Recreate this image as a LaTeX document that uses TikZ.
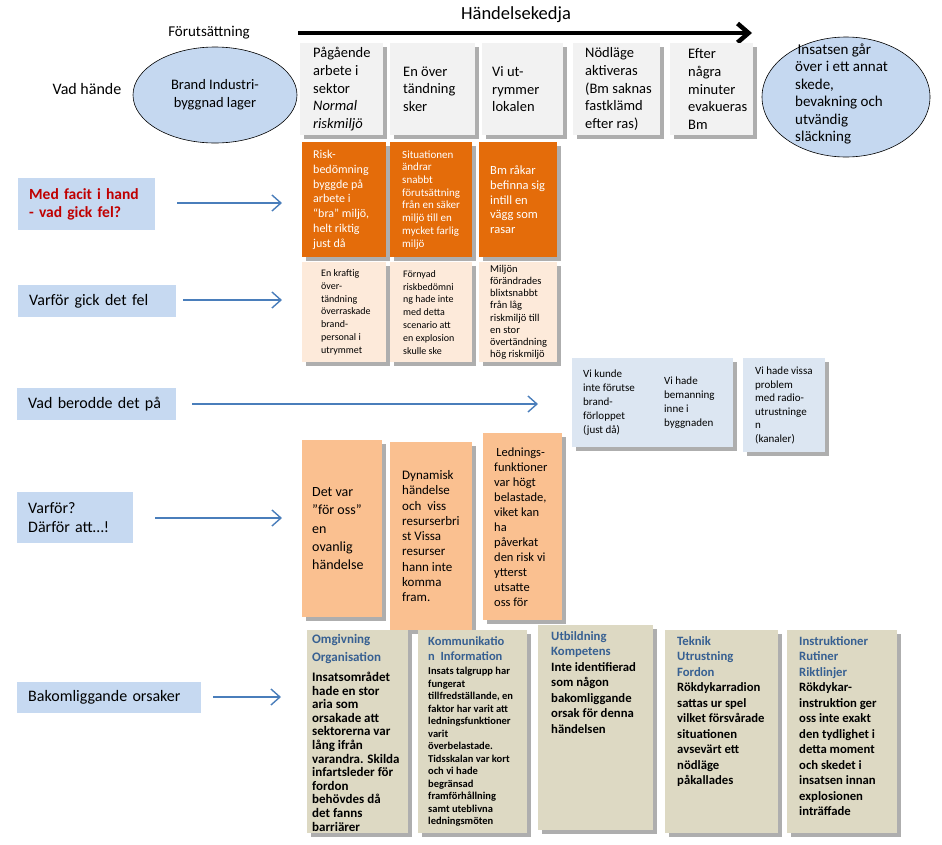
\documentclass[tikz,border=0pt]{standalone}
\usepackage{fontspec}
\setmainfont{Carlito}
\usetikzlibrary{shadows,arrows.meta,shapes.geometric}
\definecolor{greyfill}{HTML}{F2F2F2}
\definecolor{orangefill}{HTML}{E46C0A}
\definecolor{lightor}{HTML}{FDEADA}
\definecolor{peach}{HTML}{FAC090}
\definecolor{bluebox}{HTML}{DCE6F2}
\definecolor{labblue}{HTML}{C6D9F1}
\definecolor{ellblue}{HTML}{C5D8F0}
\definecolor{beige}{HTML}{DDD9C3}
\definecolor{headblue}{HTML}{376092}
\definecolor{factred}{HTML}{C00000}
\definecolor{arrblue}{HTML}{4A7EBB}
\newcommand\fs[2]{\fontsize{#1}{#2}\selectfont}
\begin{document}
\begin{tikzpicture}[x=1pt,y=-1pt,
  box/.style={rectangle, anchor=north west, inner sep=0pt, draw=none,
    drop shadow={shadow xshift=3.5pt, shadow yshift=-3.5pt, fill=black!45, opacity=0.7}},
  txt/.style={anchor=west, inner sep=0pt, align=left},
  txttop/.style={anchor=north west, inner sep=0pt, align=left},
  lab/.style={anchor=north west, fill=labblue, inner xsep=11pt, inner ysep=0pt, align=left, font=\fs{16}{19}},
  ell/.style={ellipse, draw=black, line width=0.6pt, fill=ellblue, inner sep=0pt},
  conn/.style={draw=arrblue, line width=1.4pt, -{Straight Barb[length=9pt,width=16pt,line width=1.4pt]}},
]
\useasboundingbox (0,0) rectangle (942,844);

% ---- title and timeline
\node[inner sep=0pt, font=\fs{18.5}{22}] (title) at (516,15) {Händelsekedja};
\node[inner sep=0pt, font=\fs{15}{18}] (forut) at (209,33) {Förutsättning};
\coordinate (ts) at (298,33);
\coordinate (te) at (752,33);
\draw[line width=4.5pt, -{Straight Barb[length=11pt,width=19pt,line width=4.5pt]}] (ts) -- (te);

\node[inner sep=0pt, font=\fs{16}{19}] (vadh) at (87,89) {Vad hände};
\node[ell, minimum width=164, minimum height=96, align=center, font=\fs{14.5}{17.7}] (e1) at (215,95) {Brand Industri-\\byggnad lager};
\node[ell, minimum width=168, minimum height=120] (e2) at (846,97) {};
\node[txt, font=\fs{15}{17.5}] (e2t) at (795,94) {\,Insatsen går\\över i ett annat\\skede,\\bevakning och\\utvändig\\släckning};

% ---- grey event boxes
\node[box, fill=greyfill, minimum width=83, minimum height=92] (g1) at (300,43) {};
\node[box, fill=greyfill, minimum width=85, minimum height=92] (g2) at (390,43) {};
\node[box, fill=greyfill, minimum width=81, minimum height=92] (g3) at (482,43) {};
\node[box, fill=greyfill, minimum width=87, minimum height=92] (g4) at (573,43) {};
\node[box, fill=greyfill, minimum width=83, minimum height=92] (g5) at (670,43) {};
\node[txt, font=\fs{14.5}{17.7}] (g1t) at ([xshift=13pt]g1.west) {Pågående\\arbete i\\sektor\\\textit{Normal}\\\textit{riskmiljö}};
\node[txt, font=\fs{14.5}{17.7}] (g2t) at ([xshift=13pt]g2.west) {En över\\tändning\\sker};
\node[txt, font=\fs{14.5}{17.7}] (g3t) at ([xshift=10pt]g3.west) {Vi ut-\\rymmer\\lokalen};
\node[txt, font=\fs{14.5}{17.7}] (g4t) at ([xshift=12pt]g4.west) {Nödläge\\aktiveras\\(Bm saknas\\fastklämd\\efter ras)};
\node[txt, font=\fs{14.5}{17.7}] (g5t) at ([xshift=18pt]g5.west) {Efter\\några\\minuter\\evakueras\\Bm};

% ---- orange boxes
\node[box, fill=orangefill, minimum width=84, minimum height=115] (o1) at (302,142) {};
\node[box, fill=orangefill, minimum width=82, minimum height=115] (o2) at (390,142) {};
\node[box, fill=orangefill, minimum width=78, minimum height=115] (o3) at (479,142) {};
\node[txt, text=white, font=\fs{12}{14.8}] (o1t) at ([xshift=11pt]o1.west) {Risk-\\bedömning\\byggde på\\arbete i\\“bra” miljö,\\helt riktig\\just då};
\node[txt, text=white, font=\fs{11}{12.7}] (o2t) at ([xshift=12pt]o2.west) {Situationen\\ändrar\\snabbt\\förutsättning\\från en säker\\miljö till en\\mycket farlig\\miljö};
\node[txt, text=white, font=\fs{12.5}{14.8}] (o3t) at ([xshift=11pt]o3.west) {Bm råkar\\befinna sig\\intill en\\vägg som\\rasar};

% ---- light orange boxes
\node[box, fill=lightor, minimum width=84, minimum height=100] (l1) at (302,262) {};
\node[box, fill=lightor, minimum width=82, minimum height=100] (l2) at (390,262) {};
\node[box, fill=lightor, minimum width=78, minimum height=100] (l3) at (479,262) {};
\node[txt, font=\fs{10}{12.8}] (l1t) at ([xshift=19pt]l1.west) {En kraftig\\över-\\tändning\\överraskade\\brand-\\personal i\\utrymmet};
\node[txt, font=\fs{10}{12.8}] (l2t) at ([xshift=13pt]l2.west) {Förnyad\\riskbedömni\\ng hade inte\\med detta\\scenario att\\en explosion\\skulle ske};
\node[txt, font=\fs{10.5}{12.1}] (l3t) at ([xshift=11pt]l3.west) {Miljön\\förändrades\\blixtsnabbt\\från låg\\riskmiljö till\\en stor\\övertändning\\hög riskmiljö};

% ---- blue boxes
\node[box, fill=bluebox, minimum width=161, minimum height=89] (bA) at (572,358) {};
\node[box, fill=bluebox, minimum width=82, minimum height=94] (bB) at (743,358) {};
\node[txt, font=\fs{11}{13.8}] (bA1) at ([xshift=11pt]bA.west) {Vi kunde\\inte förutse\\brand-\\förloppet\\(just då)};
\node[txt, font=\fs{11}{13.8}] (bA2) at ([xshift=92pt]bA.west) {Vi hade\\bemanning\\inne i\\byggnaden};
\node[txt, font=\fs{11}{13.5}] (bBt) at ([xshift=12pt]bB.west) {Vi hade vissa\\problem\\med radio-\\utrustninge\\n\\(kanaler)};

% ---- peach boxes
\node[box, fill=peach, minimum width=80, minimum height=177] (p1) at (302,440) {};
\node[box, fill=peach, minimum width=82, minimum height=188] (p2) at (390,442) {};
\node[box, fill=peach, minimum width=79, minimum height=187] (p3) at (483,433) {};
\node[txt, font=\fs{14}{18.3}] (p1t) at ([xshift=10pt]p1.west) {Det var\\”för oss”\\en\\ovanlig\\händelse};
\node[txt, font=\fs{13}{15.3}] (p2t) at ([xshift=12pt]p2.west) {Dynamisk\\händelse\\och\ \ viss\\resurserbri\\st Vissa\\resurser\\hann inte\\komma\\fram.};
\node[txt, font=\fs{12.5}{15}] (p3t) at ([xshift=11pt]p3.west) {\,Lednings-\\funktioner\\var högt\\belastade,\\viket kan\\ha\\påverkat\\den risk vi\\ytterst\\utsatte\\oss för};

% ---- beige boxes
\node[box, fill=beige, minimum width=101, minimum height=203] (b1) at (307,630) {};
\node[box, fill=beige, minimum width=109, minimum height=203] (b2) at (418,630) {};
\node[box, fill=beige, minimum width=115, minimum height=205] (b3) at (538,625) {};
\node[box, fill=beige, minimum width=113, minimum height=203] (b4) at (665,630) {};
\node[box, fill=beige, minimum width=110, minimum height=203] (b5) at (787,630) {};
\node[txttop, font=\bfseries\fs{13}{13.6}] (b1t) at ([xshift=5pt,yshift=-4pt]b1.north west) {\textcolor{headblue}{Omgivning}\\[5pt]\textcolor{headblue}{Organisation}\\[6pt]Insatsområdet\\hade en stor\\aria som\\orsakade att\\sektorerna var\\lång ifrån\\varandra. Skilda\\infartsleder för\\fordon\\behövdes då\\det fanns\\barriärer};
\node[txttop, font=\bfseries\fs{12.5}{15}] (b2h) at ([xshift=10pt,yshift=-6pt]b2.north west) {\textcolor{headblue}{Kommunikatio}\\\textcolor{headblue}{n\ \ Information}};
\node[txttop, font=\bfseries\fs{10.5}{12.5}] (b2t) at ([xshift=10pt,yshift=-37pt]b2.north west) {Insats talgrupp har\\fungerat\\tillfredställande, en\\faktor har varit att\\ledningsfunktioner\\varit\\överbelastade.\\Tidsskalan var kort\\och vi hade\\begränsad\\framförhållning\\samt uteblivna\\ledningsmöten};
\node[txttop, font=\bfseries\fs{12.7}{15.5}] (b3t) at ([xshift=13pt,yshift=-6pt]b3.north west) {\textcolor{headblue}{Utbildning}\\\textcolor{headblue}{Kompetens}\\Inte identifierad\\som någon\\bakomliggande\\orsak för denna\\händelsen};
\node[txttop, font=\bfseries\fs{12.7}{15.5}] (b4t) at ([xshift=12pt,yshift=-6pt]b4.north west) {\textcolor{headblue}{Teknik}\\\textcolor{headblue}{Utrustning}\\\textcolor{headblue}{Fordon}\\Rökdykarradion\\sattas ur spel\\vilket försvårade\\situationen\\avsevärt ett\\nödläge\\påkallades};
\node[txttop, font=\bfseries\fs{12.7}{15.5}] (b5t) at ([xshift=12pt,yshift=-6pt]b5.north west) {\textcolor{headblue}{Instruktioner}\\\textcolor{headblue}{Rutiner}\\\textcolor{headblue}{Riktlinjer}\\Rökdykar-\\instruktion ger\\oss inte exakt\\den tydlighet i\\detta moment\\och skedet i\\insatsen innan\\explosionen\\inträffade};

% ---- left labels
\node[lab, text width=115pt, minimum height=52, text=factred, font=\bfseries\fs{15.5}{18}] (L1) at (18,178) {Med facit i hand\\- vad gick fel?};
\node[lab, text width=136pt, minimum height=32] (L2) at (18,285) {Varför gick det fel};
\node[lab, text width=137pt, minimum height=32] (L3) at (17,388) {Vad berodde det på};
\node[lab, text width=94pt, minimum height=51] (L4) at (17,492) {Varför?\\Därför att…!};
\node[lab, text width=162pt, minimum height=31] (L5) at (17,682) {Bakomliggande orsaker};

% ---- connectors
\coordinate (a1e) at (282,203);
\coordinate (a2e) at (282,300);
\coordinate (a3e) at (538,404);
\coordinate (a4e) at (282,518);
\coordinate (a5e) at (281,697);
\draw[conn] ([xshift=22pt]L1.east |- a1e) -- (a1e);
\draw[conn] ([xshift=7pt]L2.east |- a2e) -- (a2e);
\draw[conn] ([xshift=16pt]L3.east |- a3e) -- (a3e);
\draw[conn] ([xshift=22pt]L4.east |- a4e) -- (a4e);
\draw[conn] ([xshift=12pt]L5.east |- a5e) -- (a5e);
\end{tikzpicture}
\end{document}
